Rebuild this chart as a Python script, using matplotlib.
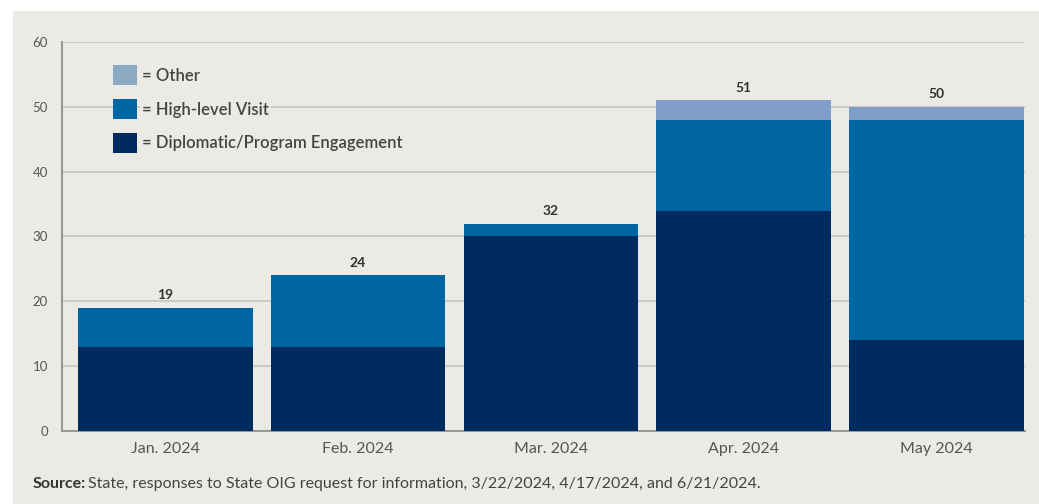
import matplotlib
matplotlib.use("Agg")
import matplotlib.pyplot as plt
from matplotlib.patches import Rectangle, Patch
import numpy as np

months = ["Jan. 2024", "Feb. 2024", "Mar. 2024", "Apr. 2024", "May 2024"]
diplomatic = [13, 13, 30, 34, 14]
high_level = [6, 11, 2, 14, 34]
other = [0, 0, 0, 3, 2]
totals = [19, 24, 32, 51, 50]
yticks = [0, 10, 20, 30, 40, 50, 60]
legend_labels = ["= Other", "= High-level Visit", "= Diplomatic/Program Engagement"]

c_dark = "#002B5F"
c_mid = "#0066A3"
c_light = "#7F9FC8"
c_leg_light = "#8DAAC3"
bg = "#ECEAE4"

plt.rcParams['font.family'] = ['Lato', 'DejaVu Sans']

fig = plt.figure(figsize=(10.39, 5.04), dpi=100, facecolor="white")
fig.patches.append(Rectangle((13/1039, 0), 1 - 13/1039, 1 - 11/504,
                             transform=fig.transFigure, facecolor=bg,
                             edgecolor="none", zorder=-10))
ax = fig.add_axes([62/1039, 1 - 431/504, 963/1039, 389/504])
ax.set_facecolor(bg)

x = np.arange(len(months))
w = 0.905
b1 = np.array(diplomatic)
b2 = b1 + np.array(high_level)
ax.bar(x, diplomatic, w, color=c_dark, zorder=3)
ax.bar(x, high_level, w, bottom=b1, color=c_mid, zorder=3)
ax.bar(x, other, w, bottom=b2, color=c_light, zorder=3)

for xi, t in zip(x, totals):
    ax.text(xi, t + 1.0, str(t), ha="center", va="bottom", fontsize=10,
            fontweight="bold", color="#333333", zorder=4)

ax.set_xlim(-0.536, 4.46)
ax.set_ylim(0, 60)
ax.set_yticks(yticks)
ax.set_xticks(x)
ax.set_xticklabels(months, fontsize=11.5, color="#555555")
ax.tick_params(axis="y", labelsize=9.5, colors="#555555", length=0, pad=10)
ax.tick_params(axis="x", length=0, pad=8)
ax.grid(axis="y", color="#C5C4BF", linewidth=1.2, zorder=0)
for s in ["top", "right"]:
    ax.spines[s].set_visible(False)
ax.spines["left"].set_color("#999999")
ax.spines["left"].set_linewidth(1.5)
ax.spines["bottom"].set_color("#999999")
ax.spines["bottom"].set_linewidth(1.5)

handles = [Patch(facecolor=c, label=l) for c, l in
           zip([c_leg_light, c_mid, c_dark], legend_labels)]
leg = ax.legend(handles=handles, loc="upper left", bbox_to_anchor=(0.04, 0.972),
                frameon=False, fontsize=12, handlelength=1.46, handleheight=1.46,
                handletextpad=0.3, labelspacing=0.83, borderpad=0.25)
for t in leg.get_texts():
    t.set_color("#444444")
    t.set_fontweight("semibold")
    t.set_bbox(dict(facecolor=bg, edgecolor="none", pad=1.5))
leg.set_zorder(5)

src_size = 11.5
src = fig.text(33/1039, 1 - 484/504, "Source:", fontsize=src_size, fontweight="bold",
               color="#333333", va="center", ha="left")
fig.canvas.draw()
ext = src.get_window_extent()
x_after = (ext.x1 + 2) / fig.bbox.width
fig.text(x_after, 1 - 484/504,
         "State, responses to State OIG request for information, 3/22/2024, 4/17/2024, and 6/21/2024.",
         fontsize=src_size, color="#444444", va="center", ha="left")

fig.savefig("out.png", dpi=100, facecolor=fig.get_facecolor())
